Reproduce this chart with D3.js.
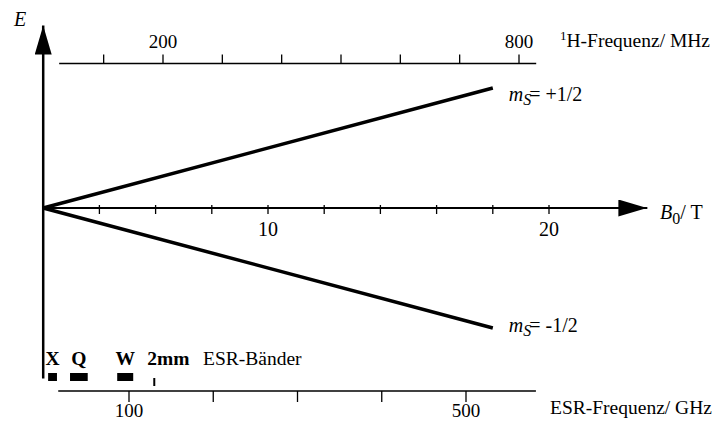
<!DOCTYPE html>
<html>
<head>
<meta charset="utf-8">
<script src="https://cdn.jsdelivr.net/npm/d3@7"></script>
<style>
  body { margin: 0; background: #fff; }
  text { font-family: "Liberation Serif", "Times New Roman", serif; fill: #000; }
</style>
</head>
<body>
<div id="chart"></div>
<script>
// Zeeman-Aufspaltung: Energie der m_S-Niveaus gegen B0

// B0 axis (T)
let bTicks = [4, 6, 8, 10, 12, 14, 16, 18, 20];
let bLabels = [10, 20];
let bAxisEnd = 23.5;

// Energy levels: [B0, E]
let levelUp = [[2, 0], [18, 0.5]];
let levelDown = [[2, 0], [18, -0.5]];
let levelNames = ["= +1/2", "= -1/2"];

// E axis extent
let eAxisTop = 0.76;
let eAxisBottom = -0.71;

// 1H frequency axis (MHz)
let hTicks = [100, 200, 300, 400, 500, 600, 700, 800];
let hLabels = [200, 800];
let hExtent = [25, 829];

// ESR frequency axis (GHz)
let esrTicks = [100, 200, 300, 400, 500];
let esrLabels = [100, 500];
let esrExtent = [16, 583];

// ESR bands (GHz)
let bandNames = ["X", "Q", "W"];
let bandRanges = [[4, 14.5], [30, 51], [86, 105]];
let band2mm = 130;

let width = 717, height = 421;

let svg = d3.select("#chart").append("svg")
  .attr("width", width)
  .attr("height", height);

let xB = d3.scaleLinear().domain([10, 20]).range([268, 549]);
let yE = d3.scaleLinear().domain([-0.5, 0.5]).range([328, 88]);
let xH = d3.scaleLinear().domain([200, 800]).range([163, 519]);
let xEsr = d3.scaleLinear().domain([100, 500]).range([129, 466]);

let x0 = xB(2);
let y0 = yE(0);

// arrow markers
let defs = svg.append("defs");
defs.append("marker")
  .attr("id", "arrow")
  .attr("viewBox", "0 0 29 17")
  .attr("refX", 29).attr("refY", 8.5)
  .attr("markerWidth", 29).attr("markerHeight", 17)
  .attr("markerUnits", "userSpaceOnUse")
  .attr("orient", "auto")
  .append("path")
    .attr("d", "M0,0 L29,8.5 L0,17 Z")
    .attr("fill", "#000");

// B0 axis
svg.append("line")
  .attr("x1", x0).attr("y1", y0)
  .attr("x2", xB(bAxisEnd)).attr("y2", y0)
  .attr("stroke", "#000").attr("stroke-width", 2)
  .attr("marker-end", "url(#arrow)");

svg.selectAll(".btick")
  .data(bTicks)
  .enter().append("line")
    .attr("class", "btick")
    .attr("x1", d => xB(d)).attr("x2", d => xB(d))
    .attr("y1", y0 - 3).attr("y2", y0 + 6)
    .attr("stroke", "#000").attr("stroke-width", 1.3);

svg.selectAll(".blabel")
  .data(bLabels)
  .enter().append("text")
    .attr("x", d => xB(d))
    .attr("y", y0 + 28)
    .attr("text-anchor", "middle")
    .style("font-size", "20px")
    .text(d => d);

let bTitle = svg.append("text")
  .attr("x", 660).attr("y", y0 + 11)
  .style("font-size", "20px");
bTitle.append("tspan").style("font-style", "italic").text("B");
bTitle.append("tspan").attr("dy", 5).style("font-size", "16px").text("0");
bTitle.append("tspan").attr("dy", -5).text("/ T");

// E axis
svg.append("line")
  .attr("x1", x0).attr("y1", yE(eAxisBottom))
  .attr("x2", x0).attr("y2", yE(eAxisTop))
  .attr("stroke", "#000").attr("stroke-width", 2.5)
  .attr("marker-end", "url(#arrow)");

svg.append("text")
  .attr("x", 14).attr("y", 26)
  .style("font-size", "20px")
  .style("font-style", "italic")
  .text("E");

// energy levels
let line = d3.line()
  .x(d => xB(d[0]))
  .y(d => yE(d[1]));

[levelUp, levelDown].forEach(function(lv, i) {
  svg.append("path")
    .attr("d", line(lv))
    .attr("fill", "none")
    .attr("stroke", "#000")
    .attr("stroke-width", 3.5);

  let end = lv[lv.length - 1];
  let t = svg.append("text")
    .attr("x", xB(end[0]) + 16)
    .attr("y", yE(end[1]) + 13 + (i == 1 ? -9 : 0))
    .style("font-size", "20px");
  t.append("tspan").style("font-style", "italic").text("m");
  t.append("tspan").attr("dy", 4).style("font-style", "italic").style("font-size", "16px").text("S");
  t.append("tspan").attr("dy", -4).attr("dx", -2).text(levelNames[i]);
});

// 1H frequency axis (top)
let yH = 63.5;
svg.append("line")
  .attr("x1", xH(hExtent[0])).attr("x2", xH(hExtent[1]))
  .attr("y1", yH).attr("y2", yH)
  .attr("stroke", "#000").attr("stroke-width", 1.3);

svg.selectAll(".htick")
  .data(hTicks)
  .enter().append("line")
    .attr("x1", d => xH(d)).attr("x2", d => xH(d))
    .attr("y1", yH - 9).attr("y2", yH)
    .attr("stroke", "#000").attr("stroke-width", 1.3);

svg.selectAll(".hlabel")
  .data(hLabels)
  .enter().append("text")
    .attr("x", d => xH(d))
    .attr("y", 48)
    .attr("text-anchor", "middle")
    .style("font-size", "19px")
    .text(d => d);

let hTitle = svg.append("text")
  .attr("x", 560).attr("y", 47)
  .style("font-size", "19.5px");
hTitle.append("tspan").attr("dy", -7).style("font-size", "13px").text("1");
hTitle.append("tspan").attr("dy", 7).text("H-Frequenz/ MHz");

// ESR frequency axis (bottom)
let yEsr = 391;
svg.append("line")
  .attr("x1", xEsr(esrExtent[0])).attr("x2", xEsr(esrExtent[1]))
  .attr("y1", yEsr).attr("y2", yEsr)
  .attr("stroke", "#000").attr("stroke-width", 1.3);

svg.selectAll(".etick")
  .data(esrTicks)
  .enter().append("line")
    .attr("x1", d => xEsr(d)).attr("x2", d => xEsr(d))
    .attr("y1", yEsr).attr("y2", yEsr + 11)
    .attr("stroke", "#000").attr("stroke-width", 1.3);

svg.selectAll(".elabel")
  .data(esrLabels)
  .enter().append("text")
    .attr("x", d => xEsr(d))
    .attr("y", 417)
    .attr("text-anchor", "middle")
    .style("font-size", "19px")
    .text(d => d);

svg.append("text")
  .attr("x", 550).attr("y", 414)
  .style("font-size", "19.5px")
  .text("ESR-Frequenz/ GHz");

// ESR bands
svg.selectAll(".band")
  .data(bandRanges)
  .enter().append("rect")
    .attr("x", d => xEsr(d[0]))
    .attr("width", d => xEsr(d[1]) - xEsr(d[0]))
    .attr("y", 373).attr("height", 8)
    .attr("fill", "#000");

svg.selectAll(".bandlabel")
  .data(bandNames)
  .enter().append("text")
    .attr("x", (d, i) => xEsr((bandRanges[i][0] + bandRanges[i][1]) / 2))
    .attr("y", 365)
    .attr("text-anchor", "middle")
    .style("font-size", "19.5px")
    .style("font-weight", "bold")
    .text(d => d);

svg.append("line")
  .attr("x1", xEsr(band2mm)).attr("x2", xEsr(band2mm))
  .attr("y1", 378).attr("y2", 386)
  .attr("stroke", "#000").attr("stroke-width", 2);

svg.append("text")
  .attr("x", xEsr(band2mm) - 7)
  .attr("y", 365)
  .style("font-size", "19.5px")
  .style("font-weight", "bold")
  .text("2mm");

svg.append("text")
  .attr("x", 203).attr("y", 365)
  .style("font-size", "19.5px")
  .text("ESR-Bänder");
</script>
</body>
</html>
